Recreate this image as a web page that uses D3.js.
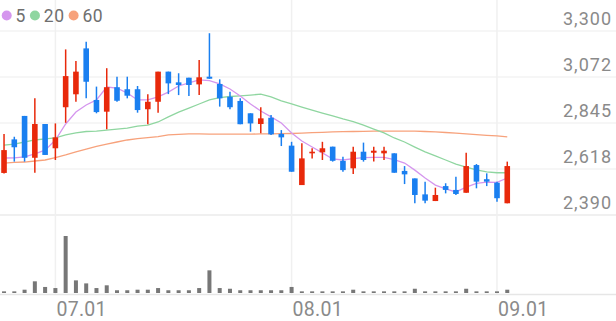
<!DOCTYPE html>
<html>
<head>
<meta charset="utf-8">
<script src="https://cdn.jsdelivr.net/npm/d3@7"></script>
<style>
  body { margin: 0; background: #fff; }
  svg { display: block; font-family: Roboto, sans-serif; }
</style>
</head>
<body>
<div id="chart"></div>
<script>
// daily candles, 2025-06-24 .. 2025-09-02
const dates = ["06.24","06.25","06.26","06.27","06.30",
  "07.01","07.02","07.03","07.04","07.07","07.08","07.09","07.10","07.11",
  "07.14","07.15","07.16","07.17","07.18","07.21","07.22","07.23","07.24","07.25",
  "07.28","07.29","07.30","07.31",
  "08.01","08.04","08.05","08.06","08.07","08.08","08.11","08.12","08.13","08.14",
  "08.18","08.19","08.20","08.21","08.22","08.25","08.26","08.27","08.28","08.29",
  "09.01","09.02"];
const open  = [2598,2764,2880,2673,2840,2720,2923,2987,3214,2959,2901,3022,3012,3012,2913,2950,3099,3046,3069,3036,3074,3038,2975,2954,2893,2840,2871,2791,2733,2538,2695,2700,2728,2658,2621,2703,2698,2695,2695,2608,2571,2492,2459,2533,2514,2500,2637,2567,2550,2448];
const high  = [2791,2777,2880,2967,2840,2843,3209,3152,3247,3025,3116,3074,3074,3028,2987,3099,3099,3091,3069,3157,3289,3061,3000,2967,2893,2923,2885,2810,2752,2745,2720,2752,2728,2678,2728,2748,2728,2728,2695,2632,2571,2555,2525,2547,2579,2698,2642,2596,2555,2654];
const low   = [2595,2654,2654,2599,2687,2662,2846,2950,2967,2893,2814,2950,2967,2896,2839,2896,2988,2983,2978,2983,3064,2926,2913,2839,2802,2794,2786,2731,2604,2538,2670,2662,2654,2604,2593,2654,2654,2662,2599,2543,2448,2448,2459,2497,2489,2500,2522,2533,2456,2448];
const close = [2711,2725,2673,2840,2687,2774,3077,3099,3049,2899,3022,2955,2980,2909,2950,3099,3041,3033,3033,3071,3064,2967,2923,2839,2843,2868,2789,2774,2604,2670,2703,2720,2658,2612,2703,2662,2708,2708,2599,2591,2489,2461,2489,2514,2494,2632,2555,2555,2473,2632];
const volume = [12,12,24,85,44,36,415,92,70,36,56,20,20,24,24,36,20,20,20,36,165,36,31,20,20,20,20,20,44,12,12,12,12,12,24,12,12,12,12,12,31,12,12,12,12,31,12,12,12,24];

const ma5  = [2672,2673,2677,2692,2711,2761,2840,2899,2934,2959,3023,3018,2993,2959,2959,2974,2998,3028,3043,3058,3055,3038,3013,2979,2939,2904,2875,2845,2796,2756,2726,2697,2667,2662,2669,2674,2675,2675,2664,2647,2612,2573,2538,2519,2504,2528,2546,2553,2551,2573];
const ma20 = [2736,2741,2751,2761,2766,2771,2786,2796,2803,2805,2810,2815,2820,2830,2835,2850,2875,2899,2919,2939,2959,2971,2976,2979,2983,2988,2974,2954,2939,2924,2909,2894,2880,2865,2852,2835,2815,2796,2771,2751,2726,2702,2682,2662,2642,2627,2613,2603,2599,2599];
const ma60 = [2647,2650,2652,2657,2662,2674,2687,2702,2716,2729,2741,2751,2761,2768,2773,2778,2786,2789,2791,2791,2790,2790,2790,2790,2790,2791,2791,2792,2793,2795,2797,2799,2801,2802,2803,2804,2805,2805,2805,2805,2805,2803,2801,2798,2795,2791,2788,2784,2781,2776];

const maNames = ["5", "20", "60"];
const priceTicks = [2390, 2617.5, 2845, 3072.5, 3300];
const priceTickLabels = ["2,390", "2,618", "2,845", "3,072", "3,300"];

const width = 616, height = 321;
const upColor = "#e8290b", downColor = "#1a7ff0";
const maColors = ["#d596ee", "#8fd6a0", "#f7a27c"];

const svg = d3.select("#chart").append("svg")
  .attr("width", width)
  .attr("height", height);

// SCALES
const x = d3.scaleBand().domain(dates).range([-1.1, 512.4]).padding(0);
const cx = d => x(d) + x.bandwidth() / 2;
const y = d3.scaleLinear().domain([2390, 3300]).range([215, 31]);
const yv = d3.scaleLinear().domain([0, 415]).range([293, 236]);

const monthStarts = dates.filter((d, i) => i > 0 && d.slice(0, 2) !== dates[i - 1].slice(0, 2));

// GRID
svg.append("g").selectAll("line")
  .data(priceTicks)
  .join("line")
  .attr("x1", 0).attr("x2", width)
  .attr("y1", d => y(d)).attr("y2", d => y(d))
  .attr("stroke", (d, i) => i === 0 ? "#ebebeb" : "#f3f3f3")
  .attr("stroke-width", 1.5);

svg.append("g").selectAll("line")
  .data(monthStarts)
  .join("line")
  .attr("x1", cx).attr("x2", cx)
  .attr("y1", 0).attr("y2", 294)
  .attr("stroke", "#f0f0f0")
  .attr("stroke-width", 1.5);

svg.append("line")
  .attr("x1", 0).attr("x2", width)
  .attr("y1", 294.5).attr("y2", 294.5)
  .attr("stroke", "#e6e6e6")
  .attr("stroke-width", 1.5);

// MOVING AVERAGES
const line = d3.line().x((d, i) => cx(dates[i])).y(d => y(d));
[ma60, ma20, ma5].forEach((s, k) => {
  svg.append("path")
    .datum(s)
    .attr("fill", "none")
    .attr("stroke", maColors[2 - k])
    .attr("stroke-width", 1.3)
    .attr("d", line);
});

// CANDLES
const candles = svg.append("g").selectAll("g")
  .data(dates)
  .join("g");

candles.append("line")
  .attr("x1", cx).attr("x2", cx)
  .attr("y1", (d, i) => y(high[i]))
  .attr("y2", (d, i) => y(low[i]))
  .attr("stroke", (d, i) => close[i] >= open[i] ? upColor : downColor)
  .attr("stroke-width", 1.5);

candles.append("rect")
  .attr("x", d => cx(d) - 2.8)
  .attr("width", 5.6)
  .attr("y", (d, i) => y(Math.max(open[i], close[i])))
  .attr("height", (d, i) => Math.max(1.5, Math.abs(y(open[i]) - y(close[i]))))
  .attr("fill", (d, i) => close[i] >= open[i] ? upColor : downColor);

// VOLUME
svg.append("g").selectAll("rect")
  .data(volume)
  .join("rect")
  .attr("x", (d, i) => cx(dates[i]) - 2)
  .attr("width", 4)
  .attr("y", d => yv(d))
  .attr("height", d => yv(0) - yv(d))
  .attr("fill", "#777");

// AXES
const yAxis = d3.axisLeft(y)
  .tickValues(priceTicks)
  .tickFormat((d, i) => priceTickLabels[i])
  .tickSize(0)
  .tickPadding(0);

const gy = svg.append("g")
  .attr("transform", "translate(612,0)")
  .call(yAxis);
gy.select(".domain").remove();
gy.selectAll("text")
  .attr("dy", null)
  .attr("y", -7)
  .style("font-size", "18px")
  .style("letter-spacing", "1px")
  .style("fill", "#8a8a8a")
  .style("font-family", "Roboto, sans-serif");

const xAxis = d3.axisBottom(x)
  .tickValues(monthStarts)
  .tickSize(0)
  .tickPadding(0);

const gx = svg.append("g")
  .attr("transform", "translate(0,294)")
  .call(xAxis);
gx.select(".domain").remove();
gx.selectAll("text")
  .attr("dy", null)
  .attr("y", 22)
  .attr("x", 1)
  .attr("text-anchor", "start")
  .style("font-size", "19.5px")
  .style("letter-spacing", "0.3px")
  .style("fill", "#8a8a8a")
  .style("font-family", "Roboto, sans-serif");

// LEGEND
const legend = svg.append("g").attr("transform", "translate(0,15.5)");
let lx = 6.7;
maNames.forEach((name, i) => {
  legend.append("circle")
    .attr("cx", lx).attr("cy", 0).attr("r", 5)
    .attr("fill", maColors[i]);
  const t = legend.append("text")
    .attr("x", lx + 8.8)
    .attr("y", 6)
    .style("font-size", "17.5px")
    .style("letter-spacing", "0.6px")
    .style("fill", "#6f6f6f")
    .text(name);
  lx = lx + 8.8 + t.node().getComputedTextLength() + 9;
});
</script>
</body>
</html>
